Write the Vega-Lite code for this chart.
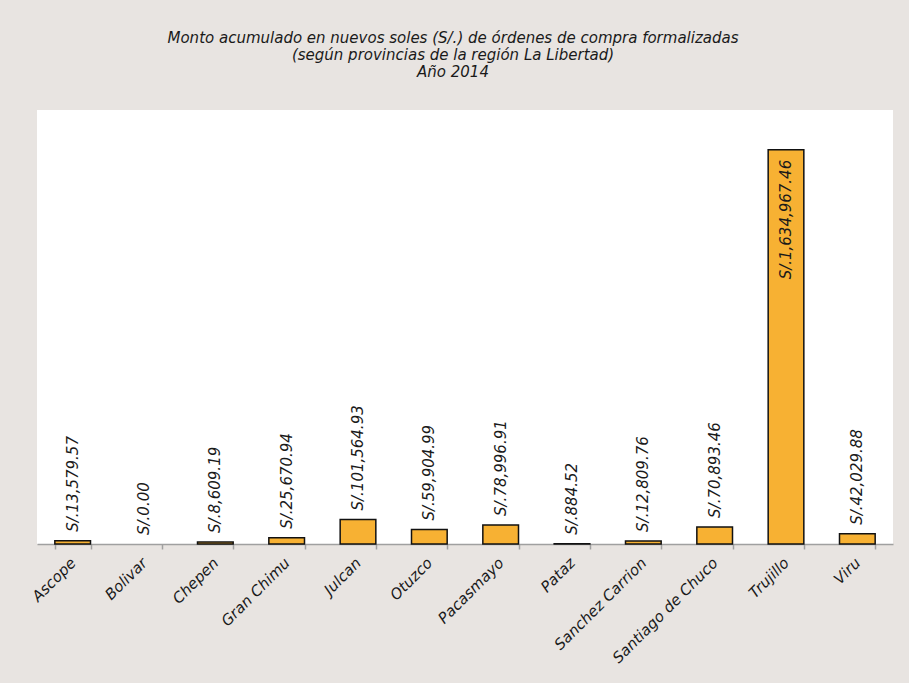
{
  "$schema": "https://vega.github.io/schema/vega-lite/v6.json",
  "autosize": "none",
  "width": 856,
  "height": 434,
  "padding": {"left": 37, "top": 110, "right": 16, "bottom": 139},
  "background": "#e8e4e1",
  "title": {
    "text": ["Monto acumulado en nuevos soles (S/.) de órdenes de compra formalizadas", "(según provincias de la región La Libertad)", "Año 2014"],
    "font": "DejaVu Sans",
    "fontSize": 15,
    "fontStyle": "italic",
    "fontWeight": "normal",
    "color": "#1a1a1a",
    "lineHeight": 17,
    "anchor": "middle",
    "dx": -12,
    "offset": 30
  },
  "data": {
    "values": [
      {"provincia": "Ascope", "monto": 13579.57},
      {"provincia": "Bolivar", "monto": 0},
      {"provincia": "Chepen", "monto": 8609.19},
      {"provincia": "Gran Chimu", "monto": 25670.94},
      {"provincia": "Julcan", "monto": 101564.93},
      {"provincia": "Otuzco", "monto": 59904.99},
      {"provincia": "Pacasmayo", "monto": 78996.91},
      {"provincia": "Pataz", "monto": 884.52},
      {"provincia": "Sanchez Carrion", "monto": 12809.76},
      {"provincia": "Santiago de Chuco", "monto": 70893.46},
      {"provincia": "Trujillo", "monto": 1634967.46},
      {"provincia": "Viru", "monto": 42029.88}
    ]
  },
  "transform": [
    {"calculate": "'S/.' + format(datum.monto, ',.2f')", "as": "etiqueta"}
  ],
  "encoding": {
    "x": {
      "field": "provincia",
      "type": "nominal",
      "sort": null,
      "scale": {"paddingInner": 0.5, "paddingOuter": 0.25},
      "axis": {
        "title": null,
        "labelAngle": -45,
        "labelAlign": "right",
        "labelBaseline": "middle",
        "labelFont": "DejaVu Sans",
        "labelFontSize": 15,
        "labelFontStyle": "italic",
        "labelColor": "#1a1a1a",
        "labelPadding": 11,
        "domainColor": "#a0a0a0",
        "domainWidth": 1.5,
        "tickColor": "#a0a0a0",
        "tickWidth": 1.5,
        "tickSize": 5,
        "tickBand": "extent",
        "grid": false
      }
    },
    "y": {
      "field": "monto",
      "type": "quantitative",
      "scale": {"domain": [0, 1800000], "nice": false},
      "axis": null
    }
  },
  "layer": [
    {
      "mark": {"type": "bar", "color": "#f7b133", "stroke": "#111111", "strokeWidth": 1.5},
      "encoding": {
        "strokeOpacity": {"condition": {"test": "datum.monto === 0", "value": 0}, "value": 1}
      }
    },
    {
      "transform": [{"filter": "datum.monto < 1000000"}],
      "mark": {"type": "text", "angle": 270, "align": "left", "baseline": "middle", "dx": 9, "font": "DejaVu Sans", "fontSize": 15, "fontStyle": "italic", "color": "#1a1a1a"},
      "encoding": {"text": {"field": "etiqueta"}}
    },
    {
      "transform": [{"filter": "datum.monto >= 1000000"}],
      "mark": {"type": "text", "angle": 270, "align": "right", "baseline": "middle", "dx": -10, "font": "DejaVu Sans", "fontSize": 15, "fontStyle": "italic", "color": "#1a1a1a"},
      "encoding": {"text": {"field": "etiqueta"}}
    }
  ],
  "config": {
    "view": {"fill": "#ffffff", "stroke": null}
  }
}
